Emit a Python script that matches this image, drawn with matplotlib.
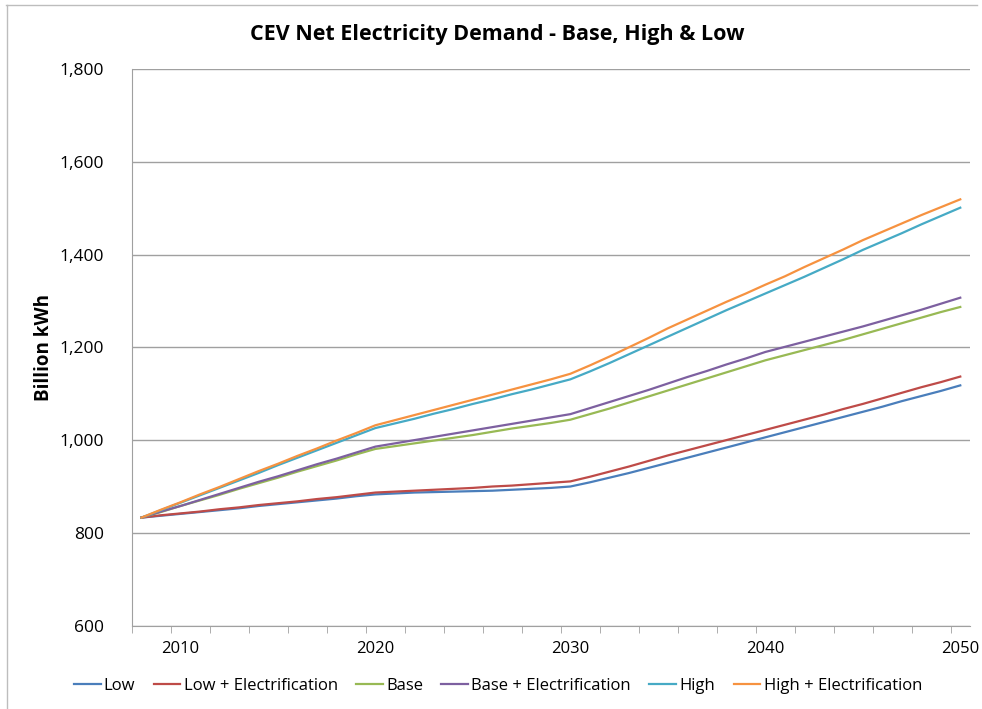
import numpy as np
import matplotlib.pyplot as plt
from matplotlib.lines import Line2D
from matplotlib.ticker import FuncFormatter, FixedLocator

years = list(range(2008, 2051))

low = [833, 837, 841, 845, 849, 853, 858, 862, 866, 870, 874, 879, 883,
       885, 887, 888, 889, 890, 891, 893, 895, 897, 900,
       909, 919, 929, 940, 951, 962, 973, 984, 995, 1006,
       1017, 1028, 1039, 1050, 1061, 1072, 1084, 1095, 1106, 1118]
low_elec = [833, 838, 842, 846, 851, 855, 860, 864, 868, 873, 877, 882, 887,
            889, 891, 893, 895, 897, 900, 902, 905, 908, 911,
            921, 932, 943, 955, 967, 978, 989, 1000, 1011, 1022,
            1033, 1044, 1055, 1067, 1078, 1090, 1102, 1114, 1125, 1137]
base = [833, 845, 858, 870, 882, 895, 907, 919, 932, 944, 956, 969, 981,
        987, 993, 999, 1005, 1011, 1018, 1025, 1031, 1037, 1044,
        1056, 1068, 1081, 1094, 1107, 1120, 1133, 1146, 1159, 1172,
        1183, 1194, 1205, 1216, 1228, 1240, 1252, 1264, 1276, 1287]
base_elec = [833, 846, 858, 871, 884, 897, 910, 922, 935, 948, 960, 973, 986,
             993, 1000, 1007, 1014, 1021, 1028, 1035, 1042, 1049, 1056,
             1069, 1082, 1095, 1108, 1122, 1136, 1149, 1163, 1176, 1190,
             1201, 1212, 1223, 1234, 1245, 1257, 1269, 1281, 1294, 1307]
high = [833, 849, 865, 881, 897, 913, 929, 946, 962, 978, 994, 1010, 1026,
        1036, 1046, 1057, 1067, 1078, 1088, 1099, 1109, 1120, 1131,
        1148, 1166, 1185, 1204, 1223, 1242, 1261, 1280, 1298, 1316,
        1334, 1352, 1371, 1390, 1410, 1428, 1446, 1465, 1483, 1501]
high_elec = [833, 850, 866, 883, 899, 916, 933, 949, 966, 982, 999, 1015, 1032,
             1043, 1054, 1065, 1076, 1087, 1098, 1109, 1120, 1131, 1143,
             1161, 1180, 1200, 1220, 1241, 1260, 1279, 1298, 1316, 1335,
             1353, 1373, 1392, 1411, 1431, 1449, 1467, 1485, 1502, 1519]

names = ["Low", "Low + Electrification", "Base", "Base + Electrification",
         "High", "High + Electrification"]
colors = ["#4A7EBB", "#BE4B48", "#98B954", "#7D60A0", "#46AAC5", "#F69240"]
series = [low, low_elec, base, base_elec, high, high_elec]

plt.rcParams['font.family'] = ['Open Sans', 'DejaVu Sans']

fig = plt.figure(figsize=(9.82, 7.09), dpi=100)
ax = fig.add_axes([0.1341, 0.1175, 0.8537, 0.7852])

for vals, c in zip(series, colors):
    ax.plot(years, vals, color=c, lw=1.6)

ax.set_xlim(2007.5, 2050.5)
ax.set_ylim(600, 1800)
ax.set_yticks(range(600, 1801, 200))
ax.yaxis.set_major_formatter(FuncFormatter(lambda v, p: f"{int(v):,}"))
ax.grid(axis='y', color='#A0A0A0', lw=1)
ax.set_axisbelow(True)

ax.set_xticks([2010, 2020, 2030, 2040, 2050])
ax.xaxis.set_minor_locator(FixedLocator(np.arange(2007.5, 2051, 2)))
ax.tick_params(axis='x', which='major', length=0, pad=11, labelsize=12)
ax.tick_params(axis='x', which='minor', length=5, color='#A0A0A0', direction='out')
ax.tick_params(axis='y', length=0, pad=20, labelsize=12.5)

for s in ['top', 'right']:
    ax.spines[s].set_visible(False)
for s in ['left', 'bottom']:
    ax.spines[s].set_color('#A0A0A0')

ax.set_ylabel("Billion kWh", fontsize=13.5, fontweight='bold', labelpad=4)
fig.text(0.506, 0.952, "CEV Net Electricity Demand - Base, High & Low",
         ha='center', va='center', fontsize=15.5, fontweight='bold')

handles = [Line2D([], [], color=c, lw=1.6) for c in colors]
fig.legend(handles, names, loc='center', bbox_to_anchor=(0.507, 0.033), ncol=6,
           frameon=False, fontsize=12, handlelength=1.6, handletextpad=0.2,
           columnspacing=1.1)

# light frame of the chart area (top and left edges visible in the original)
fig.add_artist(Line2D([0.006, 0.995], [0.993, 0.993], color='#BDBDBD', lw=1,
                      transform=fig.transFigure))
fig.add_artist(Line2D([0.007, 0.007], [0.0, 0.993], color='#BDBDBD', lw=1,
                      transform=fig.transFigure))

fig.savefig("out.png", dpi=100)
